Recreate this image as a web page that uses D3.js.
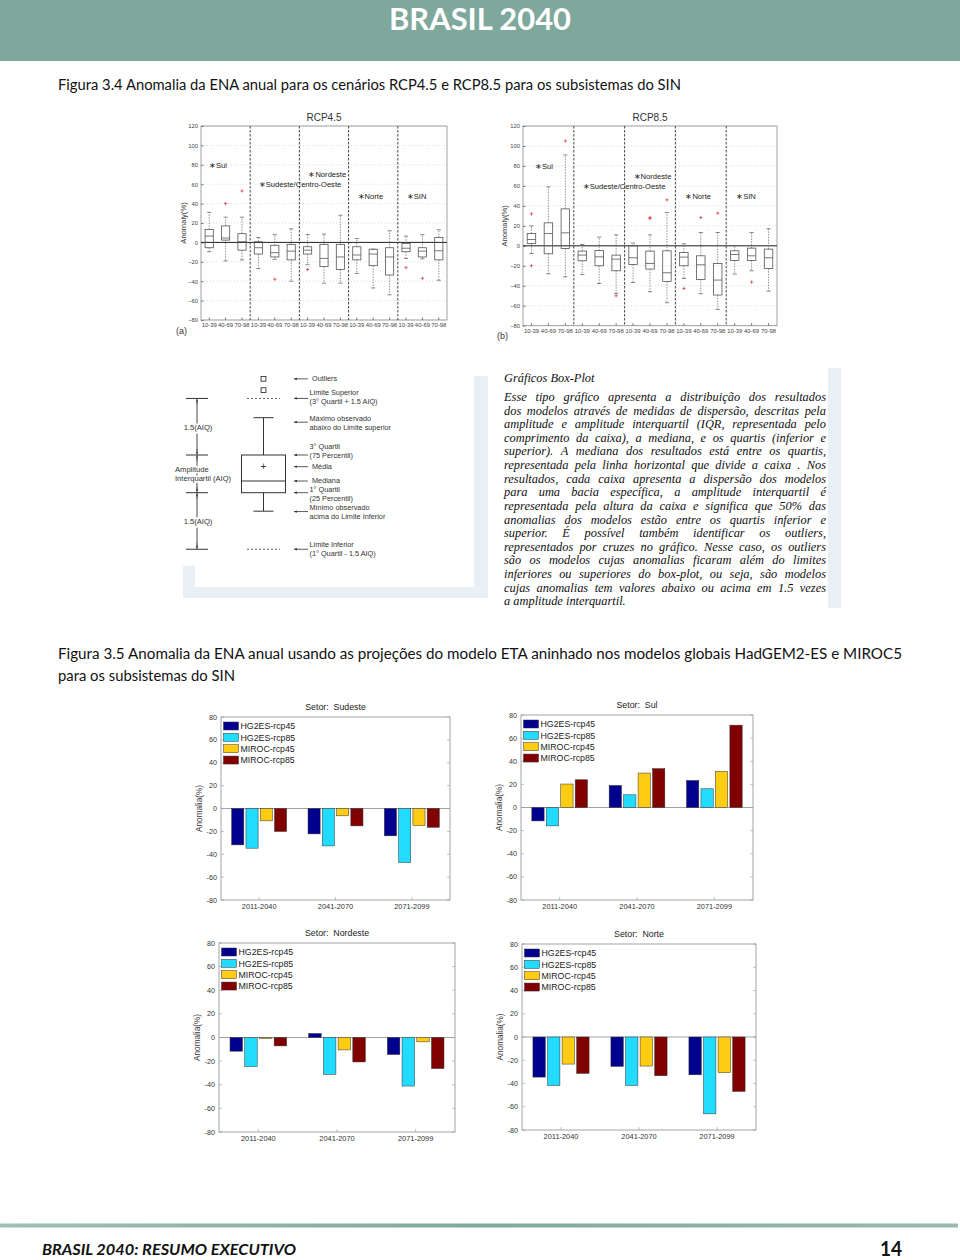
<!DOCTYPE html>
<html><head><meta charset="utf-8">
<script src="https://cdn.jsdelivr.net/npm/d3@7"></script>
<style>
body{margin:0;background:#fff}
svg{display:block}
text{white-space:pre}
</style></head><body>
<script>
// ================= DATA =================
const boxPeriods = ["10-39","40-69","70-98"];
const boxRegions = ["Sul","Sudeste/Centro-Oeste","Nordeste","Norte","SIN"];
const boxYTicks = [-80,-60,-40,-20,0,20,40,60,80,100,120];

// RCP4.5 — 15 boxes (region x period)
const rcp45Low    = [-9.6,-19,-18,  -27,-17.5,-40,  -23,-42,-42,  -32,-47,-54,  -16.5,-17,-39];
const rcp45Q1     = [-5.5,2.4,-8,   -12,-15,-18,    -12,-25,-28,  -18,-24,-33.6, -9.6,-15,-18];
const rcp45Median = [6.5,4.5,0.7,   -5.5,-10.6,-9,  -8,-16.5,-15, -13,-12,-15,  -6,-9,-8.6];
const rcp45Q3     = [13.4,17,9,     0.7,-3,-2,      -4.5,-2,-2,   -4.5,-7,-5.5, -1,-5.5,5];
const rcp45High   = [31,26,26,      5,8,14,         8,8.5,28,     4,-7,12,      6.5,8,13];
const rcp45Outliers = [[],[40],[53], [],[-38],[], [-28],[],[], [],[],[], [-26],[-37],[]];
const rcp45LabelY = [80,60,70,48,48];

// RCP8.5
const rcp85Low    = [-7.7,-28,-31,  -28.7,-37.7,-47.7, -36.7,-46,-57, -32.7,-48,-63.7, -28.3,-25,-45.3];
const rcp85Q1     = [2.3,-8,-2.7,   -15,-20,-25,       -18.7,-23.3,-35.7, -20,-33.7,-49.3, -14.7,-14.7,-22.7];
const rcp85Median = [6.3,12.3,13,   -9.3,-11,-13.3,    -12,-17.7,-27, -11.3,-19,-34.3, -8.7,-10,-12];
const rcp85Q3     = [12.3,23,37,    -5.3,-4.7,-9.3,    0,-5.3,-5,     -6.7,-10,-17.7, -5,-2.3,-3.3];
const rcp85High   = [20,59,91,      1.3,8.7,11,        2.7,11,33.3,   2,13.3,13.3,   0.3,13.3,17];
const rcp85Outliers = [[32,-20],[],[105], [],[],[-50], [],[27.3,28.3],[46], [-42.7],[28.3],[32.7], [],[-36.3],[]];
const rcp85LabelY = [80,60,70,50,50];

// Bar charts (rows = periods, columns = series)
const barPeriods = ["2011-2040","2041-2070","2071-2099"];
const barSeries = ["HG2ES-rcp45","HG2ES-rcp85","MIROC-rcp45","MIROC-rcp85"];
const barYTicks = [-80,-60,-40,-20,0,20,40,60,80];
const sudesteValues  = [[-31.8,-34.7,-10.8,-20.1],[-22.2,-32.7,-6.4,-15.2],[-23.9,-47.3,-14.9,-16.4]];
const sulValues      = [[-11.6,-15.9,20.3,24.0],[19.1,11.0,29.8,33.6],[23.4,16.2,31.3,71.2]];
const nordesteValues = [[-11.6,-24.6,-0.85,-7.1],[3.4,-31.2,-10.5,-20.7],[-14.4,-41.1,-3.7,-26.3]];
const norteValues    = [[-34.5,-41.7,-23.3,-31.3],[-25.3,-41.7,-25.0,-33.3],[-32.5,-66.1,-30.7,-46.8]];

// Schematic box-plot explanation (in IQR units, Q1 = 0, Q3 = 1)
const schemaStats = {lowerLimit:-1.5, min:-0.49, q1:0, median:0.31, mean:0.69, q3:1, max:1.99, upperLimit:2.5, outliers:[2.72,3.02]};
const schemaLabels = [
  {v:3.02, lines:["Outliers"]},
  {v:2.5,  lines:["Limite Superior","(3° Quartil + 1.5 AIQ)"]},
  {v:1.87, lines:["Máximo observado","abaixo do Limite superior"]},
  {v:1,    lines:["3° Quartil","(75 Percentil)"]},
  {v:0.69, lines:["Média"]},
  {v:0.31, lines:["Mediana"]},
  {v:0,    lines:["1° Quartil","(25 Percentil)"]},
  {v:-0.50,lines:["Mínimo observado","acima do Limite Inferior"]},
  {v:-1.5, lines:["Limite Inferior","(1° Quartil - 1.5 AIQ)"]}
];
// vertical offset of the first text line (centre) from the arrow, px
const schemaLabelShift = [0, -5.7, -3.7, -9, 0, -1, -3.7, -3.7, -5];

const boxTextTitle = "Gráficos Box-Plot";
const boxTextLines = [
 "Esse tipo gráfico apresenta a distribuição dos resultados",
 "dos modelos através de medidas de dispersão, descritas pela",
 "amplitude e amplitude interquartil (IQR, representada pelo",
 "comprimento da caixa), a mediana, e os quartis (inferior e",
 "superior). A mediana dos resultados está entre os quartis,",
 "representada pela linha horizontal que divide a caixa . Nos",
 "resultados, cada caixa apresenta a dispersão dos modelos",
 "para uma bacia específica, a amplitude interquartil é",
 "representada pela altura da caixa e significa que 50% das",
 "anomalias dos modelos estão entre os quartis inferior e",
 "superior. É possível também identificar os outliers,",
 "representados por cruzes no gráfico. Nesse caso, os outliers",
 "são os modelos cujas anomalias ficaram além do limites",
 "inferiores ou superiores do box-plot, ou seja, são modelos",
 "cujas anomalias tem valores abaixo ou acima em 1.5 vezes",
 "a amplitude interquartil."
];

// ================= DRAW =================
const svg = d3.select("body").append("svg").attr("width",960).attr("height",1260);
const SANS = "Liberation Sans, Arial, sans-serif";
const CAP = "Lato, 'Open Sans', sans-serif";

// Header
svg.append("rect").attr("x",0).attr("y",0).attr("width",960).attr("height",61).attr("fill","#7ea89b");
svg.append("text").attr("x",480).attr("y",30).attr("text-anchor","middle")
  .attr("font-family",CAP).attr("font-weight",700).attr("font-size",31).attr("fill","#fff")
  .attr("textLength",182).attr("lengthAdjust","spacingAndGlyphs").text("BRASIL 2040");

// Captions
svg.append("text").attr("x",58).attr("y",90).attr("font-family",CAP).attr("font-size",14.5).attr("fill","#111")
  .attr("textLength",623).attr("lengthAdjust","spacingAndGlyphs")
  .text("Figura 3.4 Anomalia da ENA anual para os cenários RCP4.5 e RCP8.5 para os subsistemas do SIN");
svg.append("text").attr("x",58).attr("y",659).attr("font-family",CAP).attr("font-size",14.5).attr("fill","#111")
  .attr("textLength",844).attr("lengthAdjust","spacingAndGlyphs")
  .text("Figura 3.5 Anomalia da ENA anual usando as projeções do modelo ETA aninhado nos modelos globais HadGEM2-ES e MIROC5");
svg.append("text").attr("x",58).attr("y",681).attr("font-family",CAP).attr("font-size",14.5).attr("fill","#111")
  .attr("textLength",177).attr("lengthAdjust","spacingAndGlyphs")
  .text("para os subsistemas do SIN");

// ---------- Box plot panels ----------
function drawBoxPanel(p, low, q1, med, q3, high, outl, labelY, title, tag) {
  const g = svg.append("g");
  const x = d3.scaleBand().domain(d3.range(15)).range([p.x0,p.x1]).paddingInner(0.5).paddingOuter(0.25);
  const y = d3.scaleLinear().domain([-80,120]).range([p.y1,p.y0]);
  const bw = x.bandwidth(), gap = (x.step()-bw)/2;

  g.append("rect").attr("x",p.x0).attr("y",p.y0).attr("width",p.x1-p.x0).attr("height",p.y1-p.y0)
    .attr("fill","#fff");
  g.selectAll(".grid").data(boxYTicks).join("line")
    .attr("x1",p.x0).attr("x2",p.x1).attr("y1",d=>y(d)).attr("y2",d=>y(d))
    .attr("stroke","#c4c4c4").attr("stroke-width",0.6).attr("stroke-dasharray","1,2");
  g.append("rect").attr("x",p.x0).attr("y",p.y0).attr("width",p.x1-p.x0).attr("height",p.y1-p.y0)
    .attr("fill","none").attr("stroke","#8a8a8a").attr("stroke-width",0.8);

  const ya = g.append("g").attr("transform",`translate(${p.x0},0)`)
    .call(d3.axisLeft(y).tickValues(boxYTicks).tickSize(-2.5).tickPadding(3));
  ya.select(".domain").remove();
  ya.selectAll("line").attr("stroke","#777");
  ya.selectAll("text").attr("font-family",SANS).attr("font-size",5.8).attr("fill","#444");
  const xa = g.append("g").attr("transform",`translate(0,${p.y1})`)
    .call(d3.axisBottom(x).tickFormat(i=>boxPeriods[i%3]).tickSize(-2.5).tickPadding(3));
  xa.select(".domain").remove();
  xa.selectAll("line").attr("stroke","#777");
  xa.selectAll("text").attr("font-family",SANS).attr("font-size",5.9).attr("fill","#444");

  g.append("line").attr("x1",p.x0).attr("x2",p.x1).attr("y1",y(0)).attr("y2",y(0))
    .attr("stroke","#222").attr("stroke-width",1);
  g.selectAll(".sep").data([1,2,3,4]).join("line")
    .attr("x1",k=>x(3*k)-gap).attr("x2",k=>x(3*k)-gap).attr("y1",p.y0).attr("y2",p.y1)
    .attr("stroke","#333").attr("stroke-width",0.9).attr("stroke-dasharray","2.5,1.5");

  const idx = d3.range(15);
  const bx = g.selectAll(".bx").data(idx).join("g");
  const cx = i => x(i)+bw/2;
  bx.append("line").attr("x1",cx).attr("x2",cx).attr("y1",i=>y(q3[i])).attr("y2",i=>y(high[i]))
    .attr("stroke","#666").attr("stroke-width",0.7).attr("stroke-dasharray","1.5,1.2");
  bx.append("line").attr("x1",cx).attr("x2",cx).attr("y1",i=>y(q1[i])).attr("y2",i=>y(low[i]))
    .attr("stroke","#666").attr("stroke-width",0.7).attr("stroke-dasharray","1.5,1.2");
  bx.append("line").attr("x1",i=>cx(i)-bw*0.25).attr("x2",i=>cx(i)+bw*0.25).attr("y1",i=>y(high[i])).attr("y2",i=>y(high[i]))
    .attr("stroke","#555").attr("stroke-width",0.7);
  bx.append("line").attr("x1",i=>cx(i)-bw*0.25).attr("x2",i=>cx(i)+bw*0.25).attr("y1",i=>y(low[i])).attr("y2",i=>y(low[i]))
    .attr("stroke","#555").attr("stroke-width",0.7);
  bx.append("rect").attr("x",i=>x(i)).attr("width",bw).attr("y",i=>y(q3[i])).attr("height",i=>y(q1[i])-y(q3[i]))
    .attr("fill","none").attr("stroke","#555").attr("stroke-width",0.8);
  bx.append("line").attr("x1",i=>x(i)).attr("x2",i=>x(i)+bw).attr("y1",i=>y(med[i])).attr("y2",i=>y(med[i]))
    .attr("stroke","#555").attr("stroke-width",0.8);
  const outs = [];
  idx.forEach(i=>outl[i].forEach(v=>outs.push({i,v})));
  g.selectAll(".out").data(outs).join("path")
    .attr("d",d=>{const X=cx(d.i),Y=y(d.v);return `M${X-1.6},${Y}H${X+1.6}M${X},${Y-1.6}V${Y+1.6}`;})
    .attr("stroke","#e04040").attr("stroke-width",0.8);

  g.selectAll(".rl").data(boxRegions).join("text")
    .attr("x",(d,k)=>x(3*k)-gap+p.labDx[k]).attr("y",(d,k)=>y(labelY[k])+2.7)
    .attr("font-family",SANS).attr("font-size",7.6).attr("fill","#222")
    .text(d=>"∗"+d);

  g.append("text").attr("x",(p.x0+p.x1)/2).attr("y",p.y0-5).attr("text-anchor","middle")
    .attr("font-family",SANS).attr("font-size",10).attr("fill","#333").text(title);
  g.append("text").attr("transform",`translate(${p.yl},${(p.y0+p.y1)/2}) rotate(-90)`).attr("text-anchor","middle")
    .attr("font-family",SANS).attr("font-size",7.6).attr("fill","#333").text("Anomaly(%)");
  g.append("text").attr("x",p.tagX).attr("y",p.tagY).attr("font-family",SANS).attr("font-size",9).attr("fill","#333").text(tag);
}

drawBoxPanel({x0:201,x1:447,y0:126,y1:320,yl:186,tagX:176,tagY:334,labDx:[8,8.5,9,9,9]},
  rcp45Low,rcp45Q1,rcp45Median,rcp45Q3,rcp45High,rcp45Outliers,rcp45LabelY,"RCP4.5","(a)");
drawBoxPanel({x0:523,x1:777,y0:126,y1:325.7,yl:507,tagX:497,tagY:339,labDx:[12,9,9,10,10]},
  rcp85Low,rcp85Q1,rcp85Median,rcp85Q3,rcp85High,rcp85Outliers,rcp85LabelY,"RCP8.5","(b)");

// ---------- Light frames around explanation block ----------
const frameColor = "#e8eff5";
svg.append("rect").attr("x",183).attr("y",566).attr("width",12).attr("height",32).attr("fill",frameColor);
svg.append("rect").attr("x",183).attr("y",587).attr("width",305).attr("height",11).attr("fill",frameColor);
svg.append("rect").attr("x",474).attr("y",376).attr("width",14).attr("height",222).attr("fill",frameColor);
svg.append("rect").attr("x",828).attr("y",368).attr("width",13).attr("height",240).attr("fill",frameColor);

// ---------- Schematic box plot ----------
(function(){
  const g = svg.append("g");
  const ys = d3.scaleLinear().domain([0,1]).range([492.7,455]);
  const s = schemaStats;
  const cx = 263.5, half = 22;
  const col = "#333";
  svg.append("defs").html(`<marker id="ah2" viewBox="0 0 6 6" refX="5.5" refY="3" markerWidth="4" markerHeight="4" orient="auto"><path d="M0,0.8 L6,3 L0,5.2 Z" fill="#333"/></marker>`);
  g.selectAll(".so").data(s.outliers).join("rect")
    .attr("x",cx-2.4).attr("y",d=>ys(d)-2.4).attr("width",4.8).attr("height",4.8)
    .attr("fill","#fff").attr("stroke",col).attr("stroke-width",0.9);
  [s.upperLimit,s.lowerLimit].forEach(v=>{
    g.append("line").attr("x1",247).attr("x2",280).attr("y1",ys(v)).attr("y2",ys(v))
      .attr("stroke",col).attr("stroke-width",0.8).attr("stroke-dasharray","2,2");
  });
  g.append("line").attr("x1",cx).attr("x2",cx).attr("y1",ys(s.q3)).attr("y2",ys(s.max)).attr("stroke",col).attr("stroke-width",1);
  g.append("line").attr("x1",cx).attr("x2",cx).attr("y1",ys(s.q1)).attr("y2",ys(s.min)).attr("stroke",col).attr("stroke-width",1);
  [s.max,s.min].forEach(v=>g.append("line").attr("x1",cx-10).attr("x2",cx+10).attr("y1",ys(v)).attr("y2",ys(v)).attr("stroke",col).attr("stroke-width",1));
  g.append("rect").attr("x",cx-half).attr("y",ys(s.q3)).attr("width",2*half).attr("height",ys(s.q1)-ys(s.q3))
    .attr("fill","#fff").attr("stroke",col).attr("stroke-width",1);
  g.append("line").attr("x1",cx-half).attr("x2",cx+half).attr("y1",ys(s.median)).attr("y2",ys(s.median)).attr("stroke",col).attr("stroke-width",1);
  g.append("text").attr("x",cx).attr("y",ys(s.mean)+3.5).attr("text-anchor","middle").attr("font-family",SANS).attr("font-size",10).attr("fill",col).text("+");

  const dx = 197;
  const stops = [s.upperLimit,s.q3,s.q1,s.lowerLimit];
  g.append("line").attr("x1",dx).attr("x2",dx).attr("y1",ys(s.upperLimit)).attr("y2",ys(s.lowerLimit)).attr("stroke",col).attr("stroke-width",0.9);
  stops.forEach(v=>g.append("line").attr("x1",186).attr("x2",208).attr("y1",ys(v)).attr("y2",ys(v)).attr("stroke",col).attr("stroke-width",1));
  const segs = [[s.upperLimit,s.q3],[s.q3,s.q1],[s.q1,s.lowerLimit]];
  segs.forEach(([a,b])=>{
    g.append("line").attr("x1",dx).attr("x2",dx).attr("y1",ys(a)+6).attr("y2",ys(a)+1.2).attr("stroke",col).attr("stroke-width",0.6).attr("marker-end","url(#ah2)");
    g.append("line").attr("x1",dx).attr("x2",dx).attr("y1",ys(b)-6).attr("y2",ys(b)-1.2).attr("stroke",col).attr("stroke-width",0.6).attr("marker-end","url(#ah2)");
  });
  const dimLabels = [
    {v:(s.upperLimit+s.q3)/2, lines:["1.5(AIQ)"]},
    {v:(s.q3+s.q1)/2, lines:["Amplitude","Interquartil (AIQ)"]},
    {v:(s.q1+s.lowerLimit)/2, lines:["1.5(AIQ)"]}
  ];
  dimLabels.forEach(d=>{
    const n = d.lines.length;
    d.lines.forEach((ln,j)=>{
      const t = g.append("text").attr("y",ys(d.v)+3-(n-1)*4.5+j*9).attr("font-family",SANS).attr("font-size",7.6).attr("fill","#333")
        .attr("stroke","#fff").attr("stroke-width",3).attr("paint-order","stroke").text(ln);
      if (n===1) t.attr("x",dx+1).attr("text-anchor","middle"); else t.attr("x",175);
    });
  });

  schemaLabels.forEach((d,k)=>{
    const yy = ys(d.v);
    g.append("line").attr("x1",308).attr("x2",294).attr("y1",yy).attr("y2",yy).attr("stroke",col).attr("stroke-width",0.8).attr("marker-end","url(#ah2)");
    d.lines.forEach((ln,j)=>{
      g.append("text").attr("x",d.lines.length===1?312:309.5).attr("y",yy+schemaLabelShift[k]+j*9+2.6)
        .attr("font-family",SANS).attr("font-size",7.3).attr("fill","#333").text(ln);
    });
  });
})();

// ---------- Explanation text (justified) ----------
(function(){
  const g = svg.append("g");
  const FONT = "'Liberation Serif', 'DejaVu Serif', serif";
  const fs = 12.4, X = 504, W = 322;
  g.append("text").attr("x",X).attr("y",382).attr("font-family",FONT).attr("font-style","italic").attr("font-size",fs)
    .attr("fill","#111").text(boxTextTitle);
  const tmp = g.append("text").attr("font-family",FONT).attr("font-style","italic").attr("font-size",fs).attr("opacity",0);
  const measure = w => { tmp.text(w); return tmp.node().getComputedTextLength(); };
  boxTextLines.forEach((line,i)=>{
    const yy = 401 + i*13.62;
    const t = g.append("text").attr("y",yy).attr("font-family",FONT).attr("font-style","italic").attr("font-size",fs).attr("fill","#111");
    if (i === boxTextLines.length-1) { t.attr("x",X).text(line); return; }
    const words = line.split(" ");
    const widths = words.map(measure);
    const gap = (W - d3.sum(widths)) / (words.length-1);
    let cx = X;
    words.forEach((w,k)=>{ t.append("tspan").attr("x",cx).text(w); cx += widths[k]+gap; });
  });
  tmp.remove();
})();

// ---------- Bar chart panels ----------
const barColors = d3.scaleOrdinal().domain(barSeries).range(["#00008f","#22dcff","#ffcc14","#800000"]);
function drawBarPanel(p, values, sector) {
  const g = svg.append("g");
  const x0 = d3.scaleBand().domain(barPeriods).range([p.left,p.right]).paddingInner(0.28).paddingOuter(0.14);
  const x1 = d3.scaleBand().domain(barSeries).range([0,x0.bandwidth()]).paddingInner(0.15);
  const y = d3.scaleLinear().domain([-80,80]).range([p.bottom,p.top]);

  g.append("rect").attr("x",p.left).attr("y",p.top).attr("width",p.right-p.left).attr("height",p.bottom-p.top)
    .attr("fill","#fff").attr("stroke","#9a9a9a").attr("stroke-width",0.9);
  barYTicks.forEach(t=>{
    g.append("line").attr("x1",p.left).attr("x2",p.left+3).attr("y1",y(t)).attr("y2",y(t)).attr("stroke","#999").attr("stroke-width",0.6);
    g.append("line").attr("x1",p.right-3).attr("x2",p.right).attr("y1",y(t)).attr("y2",y(t)).attr("stroke","#999").attr("stroke-width",0.6);
    g.append("text").attr("x",p.left-4).attr("y",y(t)+2.5).attr("text-anchor","end")
      .attr("font-family",SANS).attr("font-size",7.2).attr("fill","#333").text(t);
  });
  barPeriods.forEach(pr=>{
    const c = x0(pr)+x0.bandwidth()/2;
    g.append("line").attr("x1",c).attr("x2",c).attr("y1",p.bottom).attr("y2",p.bottom-3).attr("stroke","#999").attr("stroke-width",0.6);
    g.append("text").attr("x",c).attr("y",p.bottom+9).attr("text-anchor","middle")
      .attr("font-family",SANS).attr("font-size",7.4).attr("fill","#333").text(pr);
  });
  g.append("line").attr("x1",p.left).attr("x2",p.right).attr("y1",y(0)).attr("y2",y(0)).attr("stroke","#999").attr("stroke-width",0.9);
  const cells = [];
  values.forEach((row,i)=>row.forEach((v,j)=>cells.push({period:barPeriods[i],series:barSeries[j],v})));
  g.selectAll(".bar").data(cells).join("rect")
    .attr("x",d=>x0(d.period)+x1(d.series)).attr("width",x1.bandwidth())
    .attr("y",d=>Math.min(y(d.v),y(0))).attr("height",d=>Math.abs(y(d.v)-y(0)))
    .attr("fill",d=>barColors(d.series)).attr("stroke","#333").attr("stroke-width",0.5);
  barSeries.forEach((s,k)=>{
    const yy = p.top + 9 + k*11.35;
    g.append("rect").attr("x",p.left+2.5).attr("y",yy-4).attr("width",15).attr("height",8)
      .attr("fill",barColors(s)).attr("stroke","#333").attr("stroke-width",0.5);
    g.append("text").attr("x",p.left+19.5).attr("y",yy+3.2).attr("font-family",SANS).attr("font-size",8.8).attr("fill","#222").text(s);
  });
  g.append("text").attr("x",(p.left+p.right)/2).attr("y",p.top-7).attr("text-anchor","middle")
    .attr("font-family",SANS).attr("font-size",8.8).attr("fill","#222").text("Setor:  "+sector);
  g.append("text").attr("transform",`translate(${p.left-19},${(p.top+p.bottom)/2}) rotate(-90)`).attr("text-anchor","middle")
    .attr("font-family",SANS).attr("font-size",8.2).attr("fill","#333").text("Anomalia(%)");
}
drawBarPanel({left:221,right:450,top:717,bottom:900}, sudesteValues, "Sudeste");
drawBarPanel({left:521,right:753,top:715,bottom:900}, sulValues, "Sul");
drawBarPanel({left:219,right:455,top:943,bottom:1132}, nordesteValues, "Nordeste");
drawBarPanel({left:522,right:756,top:944,bottom:1130}, norteValues, "Norte");

// ---------- Footer ----------
const fg = svg.append("defs").append("linearGradient").attr("id","fl");
fg.append("stop").attr("offset","0%").attr("stop-color","#9fbfb6");
fg.append("stop").attr("offset","50%").attr("stop-color","#7fa99d");
fg.append("stop").attr("offset","100%").attr("stop-color","#98bab1");
svg.append("rect").attr("x",0).attr("y",1223.5).attr("width",958).attr("height",4).attr("fill","url(#fl)");
svg.append("text").attr("x",42).attr("y",1255).attr("font-family",CAP).attr("font-weight",700).attr("font-style","italic")
  .attr("font-size",16).attr("fill","#111").attr("textLength",254).attr("lengthAdjust","spacingAndGlyphs")
  .text("BRASIL 2040: RESUMO EXECUTIVO");
svg.append("text").attr("x",880).attr("y",1256).attr("font-family",CAP).attr("font-weight",700)
  .attr("font-size",20).attr("fill","#111").attr("textLength",22).attr("lengthAdjust","spacingAndGlyphs").text("14");
</script>
</body></html>
